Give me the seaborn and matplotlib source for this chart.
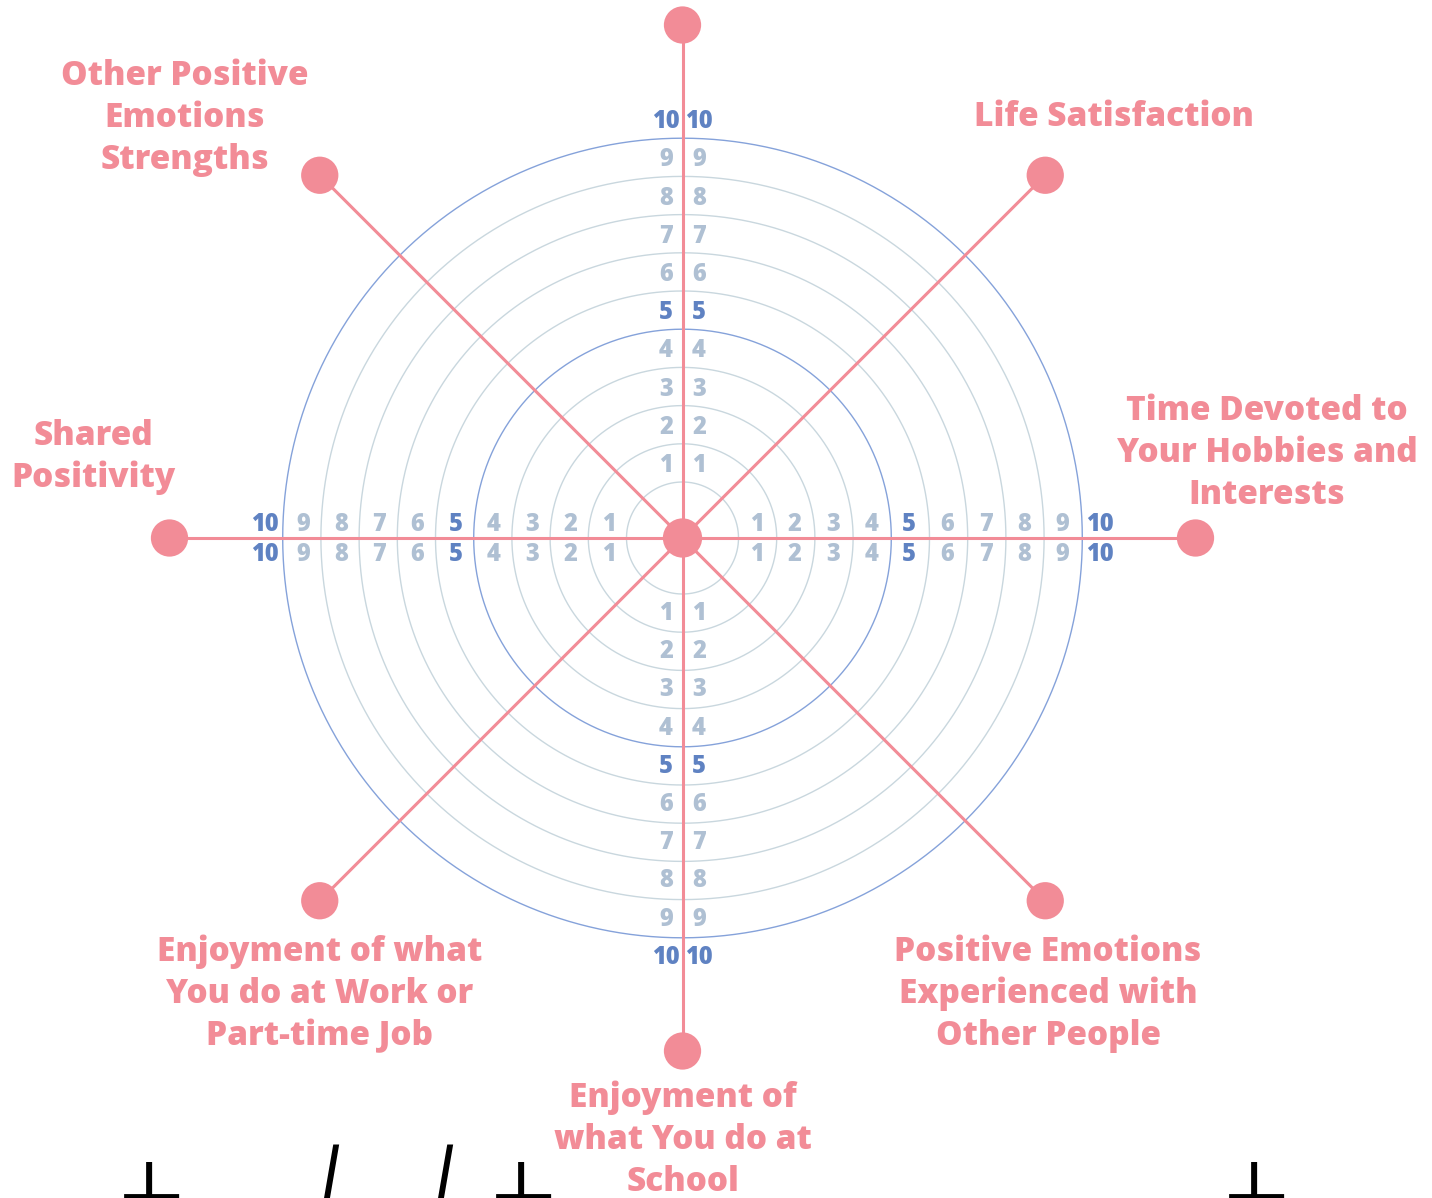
import numpy as np
import pandas as pd
import matplotlib
matplotlib.use("Agg")
import matplotlib.pyplot as plt
import seaborn as sns

# ---------------- data ----------------
categories = [
    "Enjoyment of\nwhat You do at\nSchool",
    "Life Satisfaction",
    "Time Devoted to\nYour Hobbies and\nInterests",
    "Positive Emotions\nExperienced with\nOther People",
    "Enjoyment of\nwhat You do at\nSchool",
    "Enjoyment of what\nYou do at Work or\nPart-time Job",
    "Shared\nPositivity",
    "Other Positive\nEmotions\nStrengths",
]
spoke_angles = [90, 45, 0, -45, -90, -135, 180, 135]   # degrees
scale_values = [1, 2, 3, 4, 5, 6, 7, 8, 9, 10]
strong_values = [5, 10]
handwriting = ["t", "l", "l", "t", "t"]

# ---------------- style / layout ----------------
PINK = "#F28C97"
BLUE = "#5F82C2"
RING_BLUE = "#85A2DA"
RING_GREY = "#C9D7DE"
NUM_GREY = "#AFC0D3"
R0, STEP = 56.0, 38.2        # ring radius of value 1 and spacing (px)
LBL0 = 74.0                  # radius of the value-1 tick label
R_END = 513.0                # spoke end dot radius
LABEL_FONT = ["Open Sans", "DejaVu Sans"]

sns.set_theme(style="white")
plt.rcParams["font.family"] = ["Lato", "DejaVu Sans"]

fig = plt.figure(figsize=(14.32, 11.98), dpi=100)
ax = fig.add_axes([0, 0, 1, 1])
ax.set_xlim(-682.5, 1432 - 682.5)
ax.set_ylim(538 - 1198, 538)
ax.set_aspect("equal")
ax.axis("off")

# rings
theta = np.linspace(0, 2 * np.pi, 721)
ring_rows = []
for v in scale_values:
    r = R0 + STEP * (v - 1)
    for t in theta:
        ring_rows.append({"x": r * np.cos(t), "y": r * np.sin(t), "ring": v,
                          "kind": "strong" if v in strong_values else "light"})
rings = pd.DataFrame(ring_rows)
sns.lineplot(data=rings, x="x", y="y", units="ring", hue="kind", estimator=None,
             sort=False, palette={"strong": RING_BLUE, "light": RING_GREY},
             linewidth=1.0, legend=False, ax=ax, zorder=1)

# spokes
spoke_rows = []
for i, a in enumerate(spoke_angles):
    for r in (0, R_END):
        spoke_rows.append({"x": r * np.cos(np.radians(a)), "y": r * np.sin(np.radians(a)), "spoke": i})
spokes = pd.DataFrame(spoke_rows)
sns.lineplot(data=spokes, x="x", y="y", units="spoke", estimator=None, sort=False,
             color=PINK, linewidth=2.2, legend=False, ax=ax, zorder=3)

# end dots + centre dot
ends = spokes[spokes["x"].abs() + spokes["y"].abs() > 0].drop_duplicates("spoke")
sns.scatterplot(data=ends, x="x", y="y", color=PINK, s=720, edgecolor="none", ax=ax, zorder=4)
ax.scatter([0], [0], s=800, color=PINK, edgecolor="none", zorder=4)

# tick numbers along the 4 axes
for v in scale_values:
    d = LBL0 + STEP * (v - 1)
    strong = v in strong_values
    col = BLUE if strong else NUM_GREY
    kw = dict(ha="center", va="center", fontsize=17, fontweight=800, color=col,
              family=LABEL_FONT, zorder=5)
    for sx in (-1, 1):
        for sy in (-1, 1):
            ax.text(sx * 16.5, sy * d - 1.5, str(v), **kw)      # vertical axis
            ax.text(sx * d, sy * 15 - 1.5, str(v), **kw)        # horizontal axis

# category labels
label_pos = [
    None,
    (1114 - 682.5, 538 - 117),
    (1267 - 682.5, 538 - 453),
    (1048 - 682.5, 538 - 994),
    (683 - 682.5, 538 - 1140),
    (320 - 682.5, 538 - 994),
    (93 - 682.5, 538 - 457),
    (185 - 682.5, 538 - 118),
]
for lab, pos in zip(categories, label_pos):
    if pos is None:
        continue
    ax.text(pos[0], pos[1], lab, ha="center", va="center", fontsize=24,
            fontweight=800, color=PINK, linespacing=1.3, family=LABEL_FONT, zorder=6)

# handwritten fragments at bottom (cut off by the canvas)
hw_x = [155, 318, 432, 527, 1260]
for ch, x in zip(handwriting, hw_x):
    ax.text(x - 682.5, 538 - 1313, ch, ha="center", va="baseline", fontsize=162,
            fontweight="light", color="black", family=["Roboto", "DejaVu Sans"],
            style="italic" if ch == "l" else "normal", clip_on=False, zorder=6)

fig.savefig("out.png", dpi=100, facecolor="white")
